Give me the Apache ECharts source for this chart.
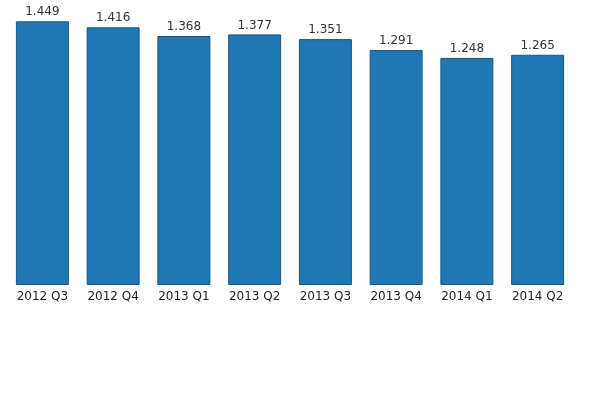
<!DOCTYPE html>
<html>
<head>
<meta charset="utf-8">
<script src="https://cdn.jsdelivr.net/npm/echarts@6/dist/echarts.min.js"></script>
<style>html,body{margin:0;padding:0;background:#fff}#chart{width:600px;height:400px}</style>
</head>
<body>
<div id="chart"></div>
<script>
// 季度数据
const quarters = ['2012 Q3', '2012 Q4', '2013 Q1', '2013 Q2', '2013 Q3', '2013 Q4', '2014 Q1', '2014 Q2'];
const values = [1.449, 1.416, 1.368, 1.377, 1.351, 1.291, 1.248, 1.265];

const chart = echarts.init(document.getElementById('chart'));
chart.setOption({
    animation: false,
    textStyle: { fontFamily: 'DejaVu Sans' },
    grid: { left: 7, right: 27, top: 12, height: 273 },
    xAxis: {
        type: 'category',
        data: quarters,
        axisLine: { show: false },
        axisTick: { show: false },
        axisLabel: { color: '#222', fontSize: 12, margin: 6, interval: 0 }
    },
    yAxis: { type: 'value', min: 0, max: 1.5, show: false },
    series: [{
        type: 'bar',
        data: values,
        barWidth: 53,
        itemStyle: { color: '#1f77b4', borderColor: '#17587f', borderWidth: 1 },
        label: {
            show: true,
            position: 'top',
            distance: 3,
            color: '#333',
            fontSize: 12,
            formatter: p => p.value.toFixed(3)
        }
    }]
});
</script>
</body>
</html>
